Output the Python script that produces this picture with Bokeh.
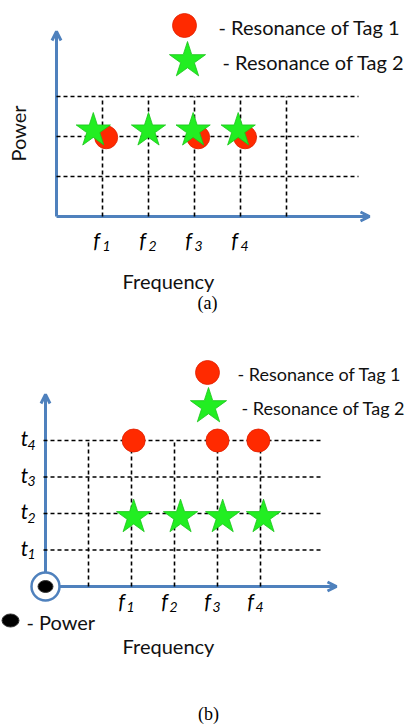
import math
from bokeh.plotting import figure
from bokeh.layouts import column
from bokeh.models import Range1d, Arrow, OpenHead
from bokeh.core.properties import value
from bokeh.embed import file_html
from bokeh.resources import INLINE

# ---------------- data ----------------
freq_subs = ["1", "2", "3", "4"]
time_subs = ["1", "2", "3", "4"]
legend_texts = ["- Resonance of Tag 1", "- Resonance of Tag 2"]

# panel (a): frequency grid / power grid
a_freq_lines = [1, 2, 3, 4, 5]
a_power_lines = [1, 2, 3]
a_tag1_f = [1.08, 3.08, 4.10]
a_tag1_p = [1.98, 1.98, 1.98]
a_tag2_f = [0.80, 2.00, 2.97, 3.95]
a_tag2_p = [2.15, 2.15, 2.15, 2.15]

# panel (b): frequency grid / time grid
b_freq_lines = [0, 1, 2, 3, 4]
b_time_lines = [1, 2, 3, 4]
b_tag1_f = [1.05, 3.00, 3.95]
b_tag1_t = [4, 4, 4]
b_tag2_f = [1.05, 2.14, 3.12, 4.07]
b_tag2_t = [1.9, 1.9, 1.9, 1.9]

# ---------------- styles ----------------
BLUE = "#4F81BD"
RED = "#FF2A00"
GREEN = "#22EE22"
GREEN_EDGE = "#1BC41B"
FONT = value("Lato")
TXT = "#111111"
W = 409
H1 = 322
H2 = 403

def mk(xr, yr, h):
    p = figure(width=W, height=h, x_range=Range1d(*xr), y_range=Range1d(*yr),
               output_backend="svg", toolbar_location=None, min_border=0)
    p.axis.visible = False
    p.grid.visible = False
    p.outline_line_color = None
    p.background_fill_color = "white"
    return p

def dashed(p, xs0, ys0, xs1, ys1):
    p.segment(x0=xs0, y0=ys0, x1=xs1, y1=ys1, line_color="black",
              line_width=1.6, line_dash="4 3")

def axis_arrow(p, x0, y0, x1, y1):
    p.add_layout(Arrow(x_start=x0, y_start=y0, x_end=x1, y_end=y1,
                       line_color=BLUE, line_width=3, level="underlay",
                       end=OpenHead(size=9, line_color=BLUE, line_width=3)))

def label_f(p, xs, y, dx_f, dx_s, dy_s):
    p.text(x=[x + dx_f for x in xs], y=[y] * len(xs), text=["f"] * len(xs),
           text_font=FONT, text_font_style="italic", text_font_size="21px",
           text_align="center", text_baseline="middle", text_color="black")
    p.text(x=[x + dx_s for x in xs], y=[y + dy_s] * len(xs), text=freq_subs,
           text_font=FONT, text_font_style="italic", text_font_size="14px",
           text_align="center", text_baseline="middle", text_color="black")

# ================= panel (a) =================
# page px -> data:  px = 56 + 46 f ; py = 216 - 40 P
ax = lambda px: (px - 56) / 46
ay = lambda py: (216 - py) / 40
pa = mk((ax(0), ax(W)), (ay(H1), ay(0)), H1)

dashed(pa, [0] * 3, a_power_lines, [ax(358)] * 3, a_power_lines)
dashed(pa, a_freq_lines, [0] * 5, a_freq_lines, [max(a_power_lines)] * 5)
axis_arrow(pa, 0, 0, 0, ay(31))
axis_arrow(pa, 0, 0, ax(369), 0)
pa.scatter(a_tag1_f, a_tag1_p, marker="circle", size=23, fill_color=RED,
           line_color="#E02000", line_width=0.8)
pa.scatter(a_tag2_f, a_tag2_p, marker="star", size=36, fill_color=GREEN,
           line_color=GREEN_EDGE, line_width=0.8)
# legend
pa.scatter([ax(184)], [ay(25)], marker="circle", size=24, fill_color=RED,
           line_color="#E02000", line_width=0.8)
pa.scatter([ax(187)], [ay(60)], marker="star", size=38, fill_color=GREEN,
           line_color=GREEN_EDGE, line_width=0.8)
pa.text(x=[ax(218), ax(222)], y=[ay(26), ay(61)], text=legend_texts,
        text_font=FONT, text_font_size="20px", text_baseline="middle",
        text_color=TXT)
label_f(pa, a_freq_lines[:4], ay(239), ax(-6) - ax(0), ax(4) - ax(0),
        ay(245) - ay(239))
pa.text(x=[ax(17)], y=[ay(133)], text=["Power"], angle=math.pi / 2,
        text_font=FONT, text_font_size="20px", text_align="center",
        text_baseline="middle", text_color=TXT)
pa.text(x=[ax(168)], y=[ay(280)], text=["Frequency"], text_font=FONT,
        text_font_size="20px", text_align="center", text_baseline="middle",
        text_color=TXT)
pa.text(x=[ax(207)], y=[ay(302)], text=["(a)"], text_font=value("Liberation Serif"),
        text_font_size="18px", text_align="center", text_baseline="middle",
        text_color="black")

# ================= panel (b) =================
# page px -> data:  px = 88 + 43 f ; py = 586 - 36.5 t  (figure starts at page y H1)
bx = lambda px: (px - 88) / 43
by = lambda py: (586 - py) / 36.5
pb = mk((bx(0), bx(W)), (by(H1 + H2), by(H1)), H2)

tmax = max(b_time_lines)
dashed(pb, [bx(43)] * 4, b_time_lines, [bx(323)] * 4, b_time_lines)
dashed(pb, b_freq_lines, [0] * 5, b_freq_lines, [tmax] * 5)
axis_arrow(pb, -1, 0, -1, by(394))
axis_arrow(pb, -1, 0, bx(336), 0)
# origin symbol (power)
pb.scatter([-1], [0], marker="circle", size=28, fill_color="white",
           line_color=BLUE, line_width=2.5)
pb.ellipse(x=[-1], y=[0], width=15, height=12, width_units="screen",
           height_units="screen", fill_color="black", line_color="#333333")
pb.scatter(b_tag1_f, b_tag1_t, marker="circle", size=23, fill_color=RED,
           line_color="#E02000", line_width=0.8)
pb.scatter(b_tag2_f, b_tag2_t, marker="star", size=36, fill_color=GREEN,
           line_color=GREEN_EDGE, line_width=0.8)
# legend
pb.scatter([bx(207)], [by(372)], marker="circle", size=24, fill_color=RED,
           line_color="#E02000", line_width=0.8)
pb.scatter([bx(208)], [by(406)], marker="star", size=38, fill_color=GREEN,
           line_color=GREEN_EDGE, line_width=0.8)
pb.text(x=[bx(237), bx(241)], y=[by(373), by(407)], text=legend_texts,
        text_font=FONT, text_font_size="18px", text_baseline="middle",
        text_color=TXT)
pb.ellipse(x=[bx(10)], y=[by(620)], width=17, height=13, width_units="screen",
           height_units="screen", fill_color="black", line_color="#333333")
pb.text(x=[bx(26)], y=[by(621)], text=["- Power"], text_font=FONT,
        text_font_size="20px", text_baseline="middle", text_color=TXT)
label_f(pb, b_freq_lines[1:], by(600), bx(-10) - bx(0), bx(-1) - bx(0),
        by(606) - by(600))
pb.text(x=[bx(24)] * 4, y=[t + (by(437) - by(440)) for t in b_time_lines],
        text=["t"] * 4, text_font=FONT, text_font_style="italic",
        text_font_size="21px", text_align="center", text_baseline="middle",
        text_color="black")
pb.text(x=[bx(31)] * 4, y=[t + (by(444) - by(440)) for t in b_time_lines],
        text=time_subs, text_font=FONT, text_font_style="italic",
        text_font_size="14px", text_align="center", text_baseline="middle",
        text_color="black")
pb.text(x=[bx(168)], y=[by(645)], text=["Frequency"], text_font=FONT,
        text_font_size="20px", text_align="center", text_baseline="middle",
        text_color=TXT)
pb.text(x=[bx(208)], y=[by(713)], text=["(b)"], text_font=value("Liberation Serif"),
        text_font_size="18px", text_align="center", text_baseline="middle",
        text_color="black")

layout = column(pa, pb, spacing=0)
open("out.html", "w").write(file_html(layout, INLINE))
